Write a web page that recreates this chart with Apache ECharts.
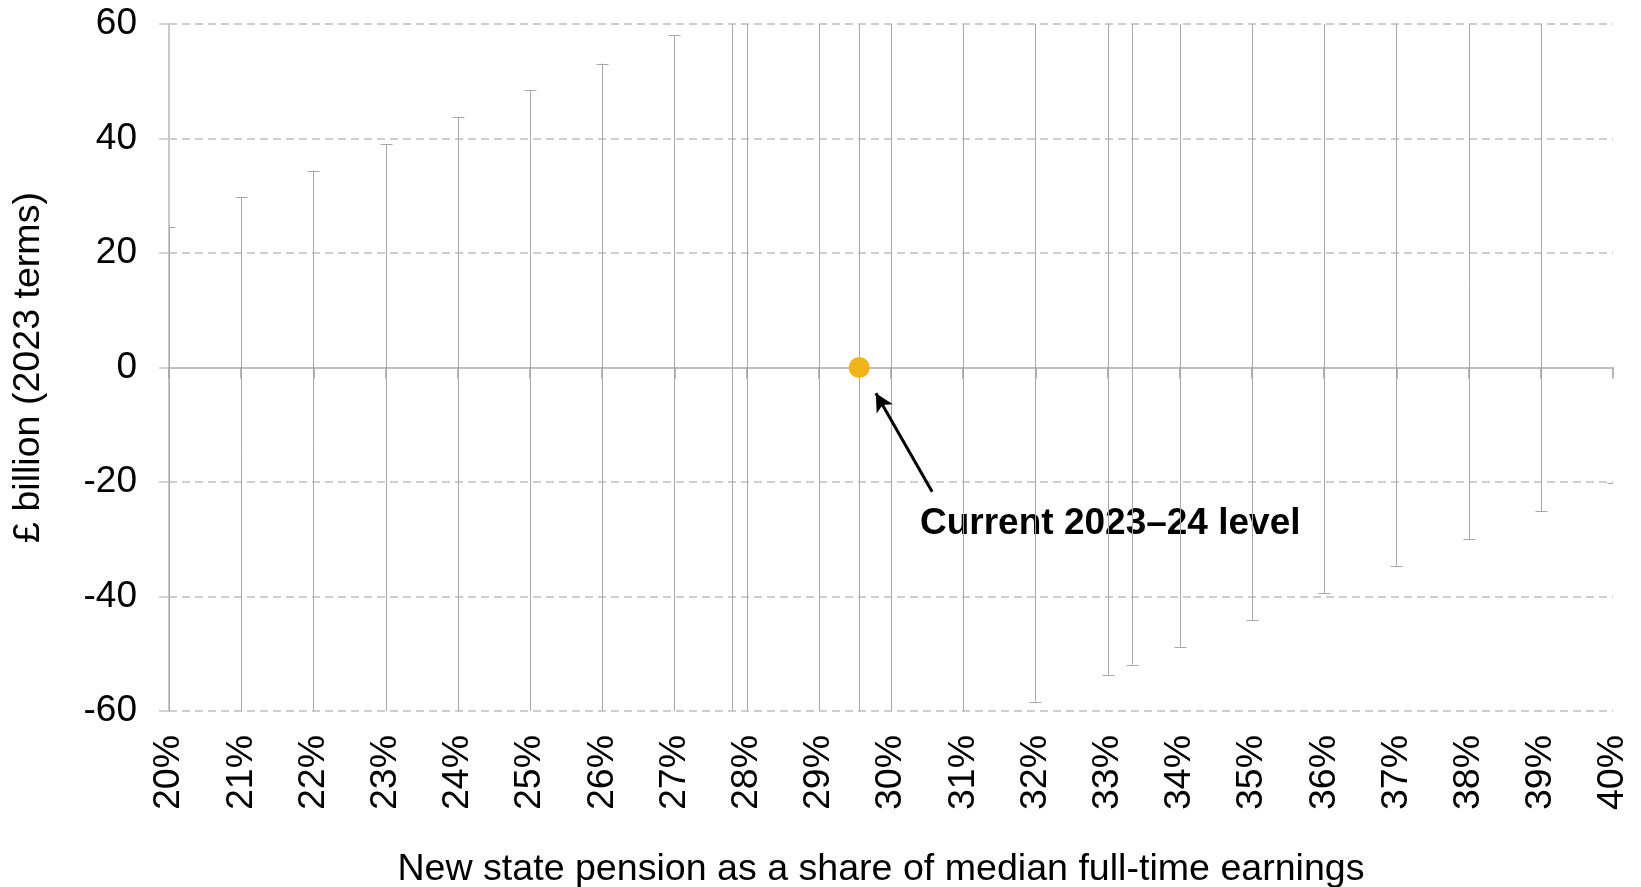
<!DOCTYPE html>
<html>
<head>
<meta charset="utf-8">
<title>New state pension cost</title>
<script src="https://cdn.jsdelivr.net/npm/echarts@6/dist/echarts.min.js"></script>
<style>
  html, body { margin: 0; padding: 0; background: #fff; }
  #main { width: 1641px; height: 887px; }
</style>
</head>
<body>
<div id="main"></div>
<script>
// x positions of the vertical bars (share of median earnings, %)
var shares = [20, 21, 22, 23, 24, 25, 26, 27, 27.8, 28, 29, 29.56, 30, 31,
              32, 33, 33.34, 34, 35, 36, 37, 38, 39, 40];
// upper end of each bar (£bn)
var barTop = [24.6, 29.7, 34.4, 39.0, 43.7, 48.4, 53.1, 58.0, 60, 60, 60, 60, 60, 60,
              60, 60, 60, 60, 60, 60, 60, 60, 60, 60];
// lower end of each bar (£bn)
var barBottom = [-60, -60, -60, -60, -60, -60, -60, -60, -60, -60, -60, -60, -60, -60,
                 -58.4, -53.7, -51.9, -48.8, -44.1, -39.4, -34.7, -30.0, -25.1, -20.2];
// current level point
var currentShare = 29.56;
var currentValue = 0;
// annotation arrow (tail -> head)
var arrowFrom = [30.57, -21.7];
var arrowTo = [29.79, -4.5];

var yMin = -60, yMax = 60;
var fontFam = 'Arial, "Liberation Sans", sans-serif';

var barData = [];
for (var i = 0; i < shares.length; i++) {
    barData.push([shares[i], barBottom[i], barTop[i]]);
}

var myChart = echarts.init(document.getElementById('main'));

option = {
    animation: false,
    grid: { left: 169, right: 28, top: 24, bottom: 176, outerBoundsMode: 'none', containLabel: false },
    xAxis: [
        {
            type: 'value',
            min: 20, max: 40, interval: 1,
            position: 'bottom',
            axisLine: { show: false, onZero: false },
            axisTick: { show: false },
            splitLine: { show: false },
            axisLabel: {
                rotate: 90,
                margin: 24,
                fontSize: 37.5,
                color: '#000',
                fontFamily: fontFam,
                formatter: '{value}%'
            },
            name: 'New state pension as a share of median full-time earnings',
            nameLocation: 'middle',
            nameGap: 140,
            nameTextStyle: { fontSize: 37.6, color: '#000', fontFamily: fontFam, padding: [0, 20, 0, 0] }
        },
        {
            // zero line with ticks
            type: 'value',
            min: 20, max: 40, interval: 1,
            position: 'bottom',
            axisLine: { show: true, onZero: true, lineStyle: { color: '#bfbfbf', width: 2 } },
            axisTick: { show: true, length: 11, lineStyle: { color: '#9e9e9e', width: 1.5 } },
            axisLabel: { show: false },
            splitLine: { show: false }
        }
    ],
    yAxis: {
        type: 'value',
        min: yMin, max: yMax, interval: 20,
        axisLine: { show: true, onZero: false, lineStyle: { color: '#c8c8c8', width: 2 } },
        axisTick: { show: true, length: 10, lineStyle: { color: '#c8c8c8', width: 1.5 } },
        splitLine: { show: true, lineStyle: { color: '#bfbfbf', width: 1.5, type: [8, 5] } },
        axisLabel: { fontSize: 37, color: '#000', fontFamily: fontFam, margin: 32 },
        name: '£ billion (2023 terms)',
        nameLocation: 'middle',
        nameGap: 121,
        nameTextStyle: { fontSize: 37.6, color: '#000', fontFamily: fontFam }
    },
    series: [
        {
            type: 'custom',
            xAxisIndex: 0,
            clip: true,
            data: barData,
            renderItem: function (params, api) {
                var x = api.value(0), lo = api.value(1), hi = api.value(2);
                var p1 = api.coord([x, hi]);
                var p2 = api.coord([x, lo]);
                var px = Math.round(p1[0]) + 0.5;
                var st = { stroke: '#a8a8a8', lineWidth: 1 };
                var kids = [{ type: 'line', shape: { x1: px, y1: p1[1], x2: px, y2: p2[1] }, style: st }];
                if (hi < yMax) {
                    var yt = Math.round(p1[1]) + 0.5;
                    kids.push({ type: 'line', shape: { x1: px - 6, y1: yt, x2: px + 6, y2: yt }, style: st });
                }
                if (lo > yMin) {
                    var yb = Math.round(p2[1]) + 0.5;
                    kids.push({ type: 'line', shape: { x1: px - 6, y1: yb, x2: px + 6, y2: yb }, style: st });
                }
                return { type: 'group', children: kids };
            },
            z: 3
        },
        {
            type: 'scatter',
            xAxisIndex: 0,
            data: [[currentShare, currentValue]],
            symbolSize: 21,
            itemStyle: { color: '#f0b41a', opacity: 1 },
            z: 5,
            markLine: {
                silent: true,
                symbol: ['none', 'arrow'],
                symbolSize: [14, 18],
                label: { show: false },
                lineStyle: { color: '#000', width: 3, type: 'solid' },
                data: [[{ coord: arrowFrom }, { coord: arrowTo }]]
            }
        }
    ],
    graphic: [
        {
            type: 'text',
            x: 920,
            y: 524,
            style: {
                text: 'Current 2023\u201324 level',
                font: 'bold 37px ' + fontFam,
                fill: '#000',
                textAlign: 'left',
                textVerticalAlign: 'middle',
                verticalAlign: 'middle'
            }
        }
    ]
};

myChart.setOption(option);
</script>
</body>
</html>
